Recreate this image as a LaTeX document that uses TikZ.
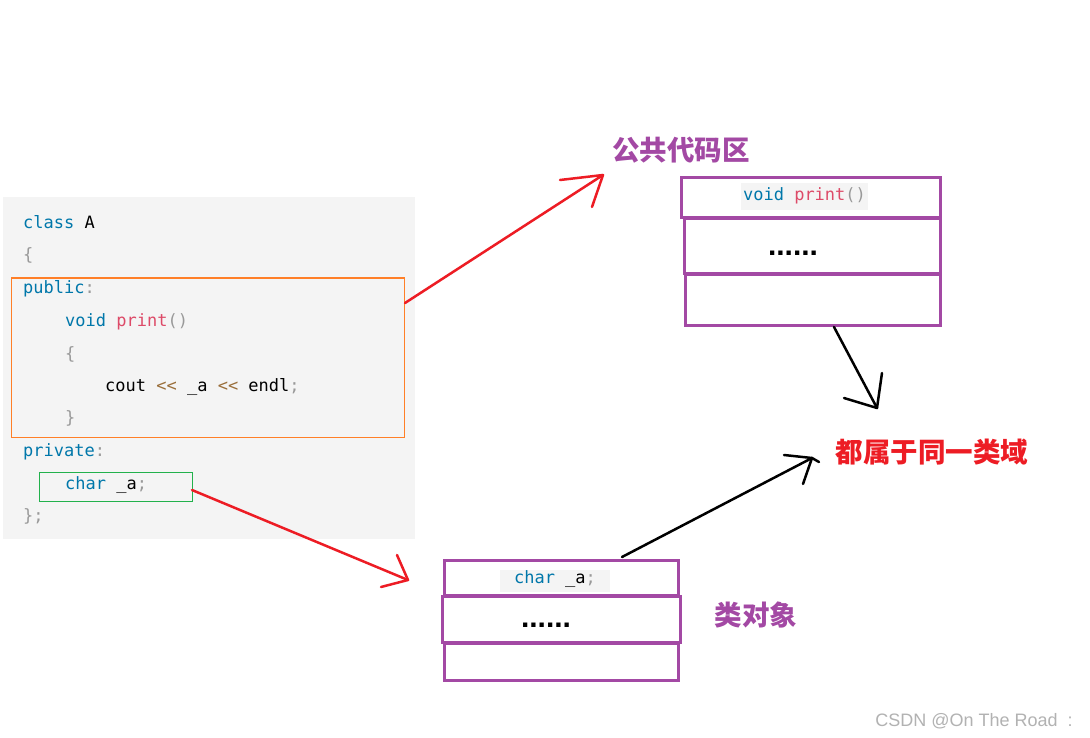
\documentclass[tikz,border=0pt]{standalone}
\usepackage{fontspec}
\setmonofont{DejaVu Sans Mono}
\setsansfont{Liberation Sans}
\newfontfamily\cjk{Noto Sans CJK SC}
\definecolor{kw}{HTML}{0077AA}
\definecolor{fn}{HTML}{DD4A68}
\definecolor{pu}{HTML}{999999}
\definecolor{op}{HTML}{9A6E3A}
\definecolor{codebg}{HTML}{F4F4F4}
\definecolor{ppl}{HTML}{A349A4}
\definecolor{rd}{HTML}{ED1C24}
\definecolor{orng}{HTML}{FF7F27}
\definecolor{grn}{HTML}{22B14C}
\begin{document}
\begin{tikzpicture}[x=1pt,y=-1pt,
  code/.style={anchor=base west,inner sep=0pt,font=\fontsize{17}{17}\selectfont\ttfamily},
  codec/.style={inner sep=0pt,font=\fontsize{17}{17}\selectfont\ttfamily},
  memb/.style={draw=ppl,line width=3pt},
  lbl/.style={inner sep=0pt,font=\fontsize{27.5}{27.5}\selectfont\cjk\bfseries},
  dots/.style={anchor=base,inner sep=0pt,font=\fontsize{30}{30}\selectfont\sffamily\bfseries},
  redarr/.style={draw=rd,line width=2.5pt,line cap=round,line join=round},
  blkarr/.style={draw=black,line width=2.5pt,line cap=round,line join=round}]
\useasboundingbox (0,0) rectangle (1090,738);
\fill[white] (0,0) rectangle (1090,738);
% code panel
\fill[codebg] (3,197) rectangle (415,539);
\node[code] (l1) at (23,229) {\textcolor{kw}{class} A};
\node[code] (l2) at (23,261) {\textcolor{pu}{\{}};
\node[code] (l3) at (23,294) {\textcolor{kw}{public}\textcolor{pu}{:}};
\node[code] (l4) at (65,326) {\textcolor{kw}{void} \textcolor{fn}{print}\textcolor{pu}{()}};
\node[code] (l5) at (65,359) {\textcolor{pu}{\{}};
\node[code] (l6) at (105,391) {cout \textcolor{op}{<<} \_a \textcolor{op}{<<} endl\textcolor{pu}{;}};
\node[code] (l7) at (65,423) {\textcolor{pu}{\}}};
\node[code] (l8) at (23,456) {\textcolor{kw}{private}\textcolor{pu}{:}};
\node[code] (l9) at (65,489) {\textcolor{kw}{char} \_a\textcolor{pu}{;}};
\node[code] (l10) at (23,521) {\textcolor{pu}{\};}};
\draw[orng,line width=1pt] (11,278) rectangle (404,437);
\draw[grn,line width=1pt] (39,472) rectangle (192,501);
% public code area
\node[lbl,text=ppl] (pub) at (681,150) {公共代码区};
\draw[memb] (681,178) rectangle (940,218);
\draw[memb] (684,219) rectangle (940,274);
\draw[memb] (685,275) rectangle (940,325);
\fill[codebg] (741,183) rectangle (868,210);
\node[codec] (vp) at (804.5,196) {\textcolor{kw}{void} \textcolor{fn}{print}\textcolor{pu}{()}};
\node[dots] (d1) at (793,256) {......};
% class object
\draw[memb] (444,560) rectangle (678,595);
\draw[memb] (442,596) rectangle (680,642);
\draw[memb] (444,643) rectangle (678,680);
\fill[codebg] (500,570) rectangle (610,592);
\node[codec] (ca) at (555,579) {\textcolor{kw}{char} \_a\textcolor{pu}{;}};
\node[dots] (d2) at (546,627) {......};
\node[lbl,text=ppl] (obj) at (756,615) {类对象};
% same scope
\node[lbl,text=rd] (scope) at (932,452) {都属于同一类域};
% arrows
\coordinate (r1s) at (405,303);
\coordinate (r1t) at (603,175);
\coordinate (r2s) at (192,490);
\coordinate (r2t) at (408,580);
\coordinate (b1s) at (834,327);
\coordinate (b1t) at (877,408);
\coordinate (b2s) at (622,557);
\coordinate (b2t) at (812,458);
\draw[redarr] (r1s) -- (r1t);
\draw[redarr] (560,180) -- (r1t) -- (592,207);
\draw[redarr] (r2s) -- (r2t);
\draw[redarr] (397,555) -- (r2t) -- (381,587);
\draw[blkarr] (b1s) -- (b1t);
\draw[blkarr] (882,373) -- (b1t) -- (844,398);
\draw[blkarr] (b2s) -- (b2t);
\draw[blkarr] (784,455) -- (b2t) -- (803,484);
\draw[blkarr] (b2t) -- (819,462);
% watermark
\node[inner sep=0pt,font=\fontsize{18}{18}\selectfont\sffamily,text=black!30] (wm) at (974,721) {CSDN @On The Road \ :};
\end{tikzpicture}
\end{document}
